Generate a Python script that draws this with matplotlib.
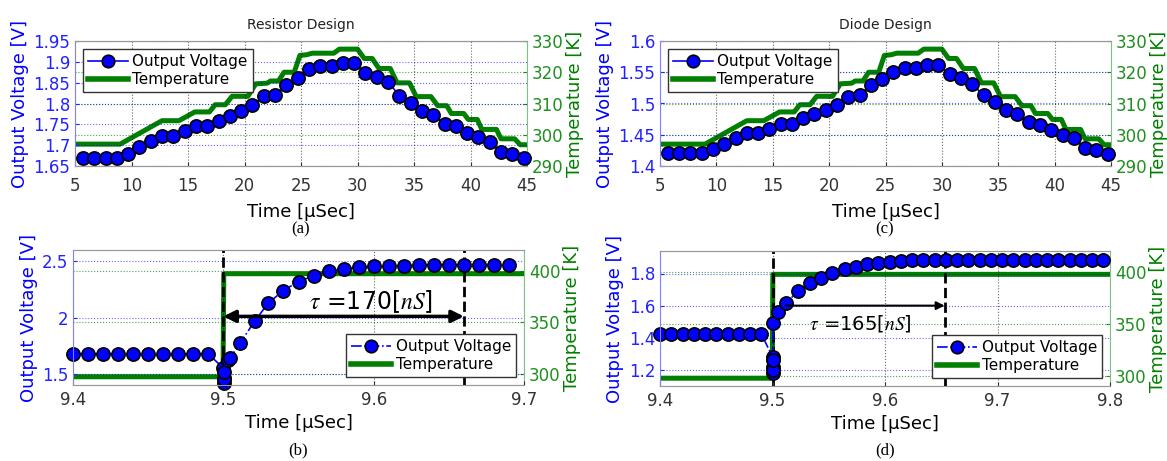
#!/usr/bin/env python3
"""Output voltage and temperature: resistor vs diode design, slow ramp and step."""
import matplotlib
matplotlib.use("Agg")
import matplotlib.pyplot as plt
from matplotlib.lines import Line2D

plt.rcParams['font.family'] = ['DejaVu Sans']
plt.rcParams['mathtext.fontset'] = 'stix'

BLUE = '#0000ff'
BLUE_TXT = '#2323ff'
BLUE_SPINE = '#7f7fff'
GREEN = '#007f00'
GREEN_TXT = '#1f8f1f'
GREEN_SPINE = '#80c080'

# ── Top panels: slow temperature sweep ────────────────────────────────────────
top_t = [5.7, 6.7, 7.7, 8.7, 9.7, 10.7, 11.7, 12.7, 13.7, 14.7,
         15.7, 16.7, 17.7, 18.7, 19.7, 20.7, 21.7, 22.7, 23.7, 24.7,
         25.7, 26.7, 27.7, 28.7, 29.7, 30.7, 31.7, 32.7, 33.7, 34.7,
         35.7, 36.7, 37.7, 38.7, 39.7, 40.7, 41.7, 42.7, 43.7, 44.7]
v_resistor = [1.670, 1.670, 1.670, 1.670, 1.680, 1.695, 1.710, 1.723, 1.723, 1.735,
              1.746, 1.745, 1.759, 1.770, 1.781, 1.796, 1.817, 1.820, 1.845, 1.861,
              1.883, 1.890, 1.890, 1.897, 1.897, 1.874, 1.863, 1.852, 1.819, 1.801,
              1.781, 1.772, 1.752, 1.745, 1.730, 1.720, 1.707, 1.683, 1.678, 1.670]
v_diode = [1.420, 1.420, 1.420, 1.420, 1.427, 1.435, 1.445, 1.453, 1.453, 1.459,
           1.467, 1.467, 1.477, 1.483, 1.490, 1.498, 1.511, 1.513, 1.529, 1.539,
           1.551, 1.557, 1.557, 1.561, 1.561, 1.547, 1.541, 1.531, 1.513, 1.502,
           1.490, 1.483, 1.470, 1.466, 1.457, 1.450, 1.444, 1.429, 1.425, 1.419]

temp_t = [5.0, 9.0, 12.7, 14.2, 15.6, 16.9, 17.4, 18.3, 18.9, 20.3,
          21.0, 22.0, 22.3, 23.0, 23.5, 24.4, 24.9, 25.5, 26.0, 27.9,
          28.4, 30.0, 30.6, 31.3, 31.9, 32.9, 33.5, 34.6, 35.2, 36.5,
          37.1, 37.9, 38.3, 39.4, 39.8, 40.6, 41.0, 42.3, 42.7, 43.9,
          44.4, 45.0]
temp_k = [297.0, 297.0, 304.5, 304.5, 307.3, 307.3, 309.6, 309.6, 312.3, 312.3,
          316.3, 316.5, 317.2, 317.2, 320.0, 320.0, 325.4, 325.6, 326.1, 326.1,
          327.4, 327.4, 324.4, 324.4, 321.2, 321.2, 316.6, 316.6, 312.2, 312.2,
          309.3, 309.3, 306.8, 306.8, 304.9, 304.9, 301.7, 301.7, 298.7, 298.7,
          296.8, 296.8]

# ── Bottom-left: resistor step response ───────────────────────────────────────
b_t = [9.40, 9.41, 9.42, 9.43, 9.44, 9.45, 9.46, 9.47, 9.48, 9.49,
       9.5001, 9.5002, 9.5003, 9.5004, 9.5005, 9.503, 9.5045, 9.511, 9.521, 9.530,
       9.540, 9.550, 9.560, 9.570, 9.580, 9.590, 9.600, 9.610, 9.620, 9.630,
       9.640, 9.650, 9.660, 9.670, 9.680, 9.690]
b_v = [1.675, 1.675, 1.675, 1.675, 1.675, 1.675, 1.675, 1.675, 1.675, 1.675,
       1.55, 1.46, 1.42, 1.45, 1.52, 1.625, 1.64, 1.77, 1.97, 2.13,
       2.24, 2.32, 2.37, 2.41, 2.43, 2.445, 2.455, 2.46, 2.46, 2.465,
       2.47, 2.47, 2.47, 2.47, 2.47, 2.47]
b_temp_t = [9.40, 9.4998, 9.5003, 9.70]
b_temp_k = [297.0, 297.0, 397.0, 397.0]

# ── Bottom-right: diode step response ─────────────────────────────────────────
d_t = [9.40, 9.41, 9.42, 9.43, 9.44, 9.45, 9.46, 9.47, 9.48, 9.49,
       9.5001, 9.5002, 9.5003, 9.5004, 9.5005, 9.5006, 9.505, 9.512, 9.523, 9.533,
       9.543, 9.553, 9.564, 9.574, 9.584, 9.594, 9.604, 9.614, 9.624, 9.634,
       9.644, 9.654, 9.664, 9.674, 9.684, 9.694, 9.704, 9.714, 9.724, 9.734,
       9.744, 9.754, 9.764, 9.774, 9.784, 9.794]
d_v = [1.425, 1.425, 1.425, 1.425, 1.425, 1.425, 1.425, 1.425, 1.425, 1.425,
       1.28, 1.22, 1.18, 1.20, 1.26, 1.49, 1.563, 1.618, 1.69, 1.74,
       1.77, 1.806, 1.831, 1.843, 1.856, 1.866, 1.872, 1.878, 1.881, 1.883,
       1.885, 1.885, 1.885, 1.885, 1.885, 1.885, 1.885, 1.885, 1.885, 1.885,
       1.885, 1.885, 1.885, 1.885, 1.885, 1.885]
d_temp_t = [9.40, 9.4998, 9.5003, 9.80]
d_temp_k = [297.5, 297.5, 397.5, 397.5]

tau_b = (9.50, 9.66, 2.01, r'$\tau$ =170[$nS$]')
tau_d = (9.512, 9.653, 1.60, r'$\tau$ =165[$nS$]')

W, H = 1167, 461
fig = plt.figure(figsize=(W / 100, H / 100), dpi=100)


def rect(x0, y0, x1, y1):
    return [x0 / W, 1 - y1 / H, (x1 - x0) / W, (y1 - y0) / H]


def make_pair(r, xlim, xticks, ylim, yticks, yticklabels, ylim2, yticks2, xpad):
    ax = fig.add_axes(r)
    ax2 = ax.twinx()
    ax.set_zorder(ax2.get_zorder() + 1)
    ax.patch.set_visible(False)

    ax.set_xlim(*xlim)
    ax.set_xticks(xticks)
    ax.set_ylim(*ylim)
    ax.set_yticks(yticks)
    ax.set_yticklabels(yticklabels)
    ax2.set_ylim(*ylim2)
    ax2.set_yticks(yticks2)

    ax.xaxis.grid(True, color='k', ls=':', lw=0.8, alpha=0.6)
    ax.yaxis.grid(True, color=BLUE, ls=':', lw=0.8, alpha=0.6)
    ax2.yaxis.grid(True, color=GREEN, ls=':', lw=0.8, alpha=0.7)

    ax.tick_params(axis='y', colors=BLUE_TXT, direction='in', length=3, labelsize=12)
    ax.tick_params(axis='x', colors='#333333', direction='in', length=3, labelsize=12,
                   pad=xpad)
    ax2.tick_params(axis='y', colors=GREEN_TXT, direction='in', length=3, labelsize=12)

    for a in (ax, ax2):
        a.spines['top'].set_color('#999999')
        a.spines['bottom'].set_color('#999999')
    ax.spines['left'].set_color(BLUE_SPINE)
    ax.spines['right'].set_visible(False)
    ax2.spines['right'].set_color(GREEN_SPINE)
    ax2.spines['left'].set_visible(False)

    ax.set_ylabel('Output Voltage [V]', color=BLUE, fontsize=13, labelpad=3)
    ax2.set_ylabel('Temperature [K]', color=GREEN, fontsize=13, labelpad=2)
    ax.set_xlabel('Time [\u00b5Sec]', fontsize=13, labelpad=2 + xpad / 2)
    return ax, ax2


def legend(ax, ls, loc):
    h = [Line2D([], [], color=BLUE, ls=ls, lw=1.2, marker='o', ms=9,
                mfc=BLUE, mec='k', mew=1.2),
         Line2D([], [], color=GREEN, lw=4)]
    lg = ax.legend(h, ['Output Voltage', 'Temperature'], loc=loc, fontsize=11,
                   numpoints=1, fancybox=False, framealpha=1, edgecolor='#333333',
                   handlelength=2.6, borderpad=0.35, labelspacing=0.2,
                   handletextpad=0.3, borderaxespad=0.5)
    lg.get_frame().set_linewidth(1.0)
    lg.set_zorder(20)


# (a) Resistor design, slow sweep
top_xt = [5, 10, 15, 20, 25, 30, 35, 40, 45]
ax, ax2 = make_pair(rect(75, 41, 527, 166), (5, 45), top_xt,
                    (1.65, 1.95), [1.65, 1.7, 1.75, 1.8, 1.85, 1.9, 1.95],
                    ['1.65', '1.7', '1.75', '1.8', '1.85', '1.9', '1.95'],
                    (290, 330), [290, 300, 310, 320, 330], xpad=8)
ax2.plot(temp_t, temp_k, color=GREEN, lw=3.6)
ax.plot(top_t, v_resistor, '-o', color=BLUE, lw=1.2, ms=9.5, mfc=BLUE, mec='k', mew=1.2,
        clip_on=False)
ax.set_title('Resistor Design', fontsize=10, color='#222222', pad=9)
legend(ax, '-', 'upper left')

# (c) Diode design, slow sweep
ax, ax2 = make_pair(rect(660, 41, 1111, 166), (5, 45), top_xt,
                    (1.4, 1.6), [1.4, 1.45, 1.5, 1.55, 1.6],
                    ['1.4', '1.45', '1.5', '1.55', '1.6'],
                    (290, 330), [290, 300, 310, 320, 330], xpad=8)
ax2.plot(temp_t, temp_k, color=GREEN, lw=3.6)
ax.plot(top_t, v_diode, '-o', color=BLUE, lw=1.2, ms=9.5, mfc=BLUE, mec='k', mew=1.2,
        clip_on=False)
ax.set_title('Diode Design', fontsize=10, color='#222222', pad=9)
legend(ax, '-', 'upper left')

# (b) Resistor design, step
ax, ax2 = make_pair(rect(73, 250, 524, 385), (9.4, 9.7), [9.4, 9.5, 9.6, 9.7],
                    (1.4, 2.6), [1.5, 2.0, 2.5], ['1.5', '2', '2.5'],
                    (289, 420), [300, 350, 400], xpad=4)
ax2.plot(b_temp_t, b_temp_k, color=GREEN, lw=3.6)
ax.plot(b_t, b_v, '-.o', color=BLUE, lw=1.2, ms=9.5, mfc=BLUE, mec='k', mew=1.2,
        clip_on=False)
t0, t1, yv, txt = tau_b
for xv in (t0, t1):
    ax.axvline(xv, color='k', ls='--', lw=2, zorder=1)
ax.annotate('', xy=(t1, yv), xytext=(t0, yv),
            arrowprops=dict(arrowstyle='<|-|>', color='k', lw=2.5,
                            mutation_scale=18, shrinkA=0, shrinkB=0))
ax.text((t0 + t1) / 2 + 0.018, yv + 0.13, txt, fontsize=17, ha='center', va='center')
legend(ax, '-.', 'lower right')

# (d) Diode design, step
ax, ax2 = make_pair(rect(660, 251, 1110, 386), (9.4, 9.8), [9.4, 9.5, 9.6, 9.7, 9.8],
                    (1.1, 1.94), [1.2, 1.4, 1.6, 1.8], ['1.2', '1.4', '1.6', '1.8'],
                    (290, 420), [300, 350, 400], xpad=4)
ax2.plot(d_temp_t, d_temp_k, color=GREEN, lw=3.6)
ax.plot(d_t, d_v, '-.o', color=BLUE, lw=1.2, ms=9.5, mfc=BLUE, mec='k', mew=1.2,
        clip_on=False)
t0, t1, yv, txt = tau_d
for xv in (9.50, t1):
    ax.axvline(xv, color='k', ls='--', lw=2, zorder=1)
ax.annotate('', xy=(t1, yv), xytext=(t0, yv),
            arrowprops=dict(arrowstyle='-|>', color='k', lw=1.5,
                            mutation_scale=12, shrinkA=0, shrinkB=0))
ax.text(9.578, 1.487, txt, fontsize=14, ha='center', va='center')
legend(ax, '-.', 'lower right')

# panel tags
for x, y, s in [(301, 229, '(a)'), (885, 229, '(c)'), (298, 450, '(b)'), (885, 450, '(d)')]:
    fig.text(x / W, 1 - y / H, s, fontsize=12, family='Liberation Serif',
             ha='center', va='center')

plt.savefig('out.png', dpi=100)
